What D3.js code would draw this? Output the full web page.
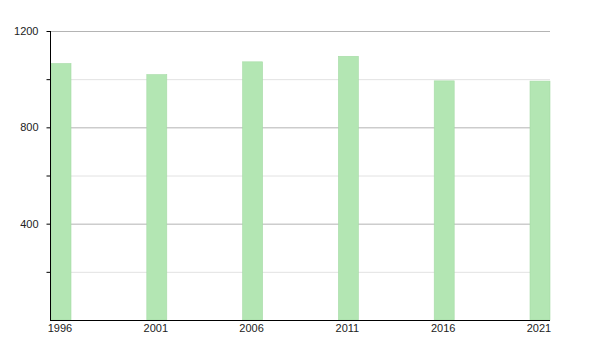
<!DOCTYPE html>
<html>
<head>
<meta charset="utf-8">
<script src="https://cdn.jsdelivr.net/npm/d3@7"></script>
<style>
	body { margin: 0; background: #fff; }
	text { font-family: "Liberation Sans", Arial, sans-serif; }
</style>
</head>
<body>
<svg id="chart" width="600" height="350"></svg>
<script>
"use strict";

var years = [1996, 2001, 2006, 2011, 2016, 2021];
var population = [1065, 1019, 1072, 1095, 993, 992];
var majorTicks = [400, 800, 1200];
var minorTicks = [200, 600, 1000];

var svg = d3.select("#chart");
//plot edges (named so they do not clash with window.top)
var plotLeft = 50, plotRight = 550, plotTop = 31, plotBottom = 320;
var barWidth = 20;

var x = d3.scaleLinear().domain([1996, 2021]).range([plotLeft + 11, plotRight - 10]);
var y = d3.scaleLinear().domain([0, 1200]).range([plotBottom, plotTop]);

//light grid lines first, then the darker ones on top
svg.selectAll(".minorGrid")
	.data(minorTicks)
	.enter()
	.append("line")
	.attr("x1", plotLeft).attr("x2", plotRight)
	.attr("y1", function(d){ return y(d) + 0.5; })
	.attr("y2", function(d){ return y(d) + 0.5; })
	.style("stroke", "#e2e2e2")
	.style("stroke-width", "1px");

svg.selectAll(".majorGrid")
	.data(majorTicks)
	.enter()
	.append("line")
	.attr("x1", plotLeft).attr("x2", plotRight)
	.attr("y1", function(d){ return y(d) + 0.5; })
	.attr("y2", function(d){ return y(d) + 0.5; })
	.style("stroke", "#b4b4b4")
	.style("stroke-width", "1px");

//bars
svg.selectAll(".bar")
	.data(years)
	.enter()
	.append("rect")
	.attr("x", function(d){ return x(d) - barWidth/2; })
	.attr("y", function(d, i){ return y(population[i]); })
	.attr("width", barWidth)
	.attr("height", function(d, i){ return plotBottom - y(population[i]); })
	.style("fill", "#b3e6b3")
	.style("stroke", "#a6dba6")
	.style("stroke-width", "0.6px");

//y axis with major labels and unlabelled minor ticks
var yAxis = svg.append("g")
	.attr("transform", "translate(" + (plotLeft + 0.5) + ",0)")
	.call(d3.axisLeft(y).tickValues(majorTicks.concat(minorTicks).sort(d3.ascending))
		.tickSize(4).tickPadding(8)
		.tickFormat(function(d){ return majorTicks.indexOf(d) >= 0 ? d : ""; }));
yAxis.select(".domain").attr("d", "M0," + plotTop + "V" + plotBottom).style("stroke", "#000");
yAxis.selectAll("line").style("stroke", "#000");
yAxis.selectAll("text").style("font-size", "11px").style("fill", "#222");

//x axis: plain line with year labels under the bars
svg.append("line")
	.attr("x1", plotLeft).attr("x2", plotRight)
	.attr("y1", plotBottom + 0.5).attr("y2", plotBottom + 0.5)
	.style("stroke", "#000")
	.style("stroke-width", "1px");

svg.selectAll(".yearLabel")
	.data(years)
	.enter()
	.append("text")
	.attr("x", function(d){ return x(d) - 1; })
	.attr("y", plotBottom + 12)
	.attr("text-anchor", "middle")
	.style("font-size", "11px")
	.style("fill", "#222")
	.text(function(d){ return d; });
</script>
</body>
</html>
